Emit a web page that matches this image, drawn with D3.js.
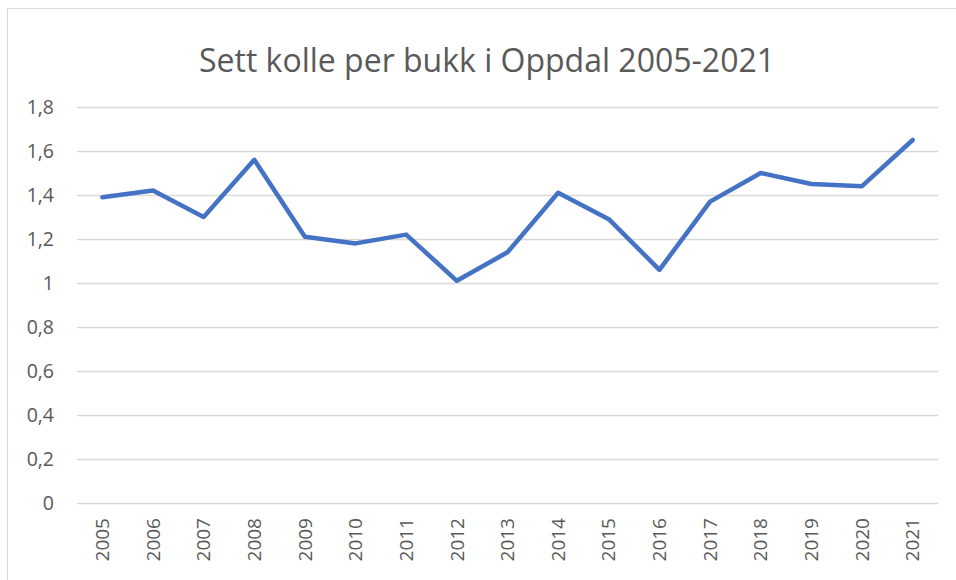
<!DOCTYPE html>
<html>
<head>
<meta charset="utf-8">
<script src="https://cdn.jsdelivr.net/npm/d3@7"></script>
<style>
  html, body { margin: 0; padding: 0; background: #fff; }
  svg { display: block; }
</style>
</head>
<body>
<svg id="chart" width="956" height="580"></svg>
<script>
// Data
const years = ["2005","2006","2007","2008","2009","2010","2011","2012","2013",
               "2014","2015","2016","2017","2018","2019","2020","2021"];
const values = [1.39, 1.42, 1.30, 1.56, 1.21, 1.18, 1.22, 1.01, 1.14,
                1.41, 1.29, 1.06, 1.37, 1.50, 1.45, 1.44, 1.65];
const yTicks = [0, 0.2, 0.4, 0.6, 0.8, 1, 1.2, 1.4, 1.6, 1.8];
const title = "Sett kolle per bukk i Oppdal 2005-2021";

const svg = d3.select("#chart");
const font = "'Open Sans', 'Liberation Sans', sans-serif";
const textColor = "#595959";

// chart frame
svg.append("rect")
  .attr("x", 7.5).attr("y", 8.5)
  .attr("width", 960).attr("height", 580)
  .attr("fill", "#fff")
  .attr("stroke", "#d9d9d9");

const margin = { left: 77, right: 18, top: 107, bottom: 77 };
const width = 956, height = 580;

const x = d3.scaleBand()
  .domain(years)
  .range([margin.left, width - margin.right]);

const y = d3.scaleLinear()
  .domain([0, 1.8])
  .range([height - margin.bottom, margin.top]);

const fmt = v => d3.format("")(+v.toFixed(1)).replace(".", ",");

// gridlines
svg.append("g")
  .selectAll("line")
  .data(yTicks).join("line")
  .attr("x1", margin.left).attr("x2", width - margin.right)
  .attr("y1", d => Math.round(y(d)) + 0.5).attr("y2", d => Math.round(y(d)) + 0.5)
  .attr("stroke", "#d9d9d9")
  .attr("stroke-width", 1.3);

// y labels
svg.append("g")
  .selectAll("text")
  .data(yTicks).join("text")
  .attr("x", 54)
  .attr("y", d => y(d))
  .attr("dy", "0.35em")
  .attr("text-anchor", "end")
  .attr("fill", textColor)
  .attr("font-family", font)
  .attr("font-size", "19.5px")
  .text(fmt);

// x labels (rotated)
svg.append("g")
  .selectAll("text")
  .data(years).join("text")
  .attr("transform", d => `translate(${x(d) + x.bandwidth() / 2},${height - margin.bottom + 15}) rotate(-90)`)
  .attr("dy", "0.35em")
  .attr("text-anchor", "end")
  .attr("fill", textColor)
  .attr("font-family", font)
  .attr("font-size", "19px")
  .text(d => d);

// line
const line = d3.line()
  .x((d, i) => x(years[i]) + x.bandwidth() / 2)
  .y(d => y(d));

svg.append("path")
  .datum(values)
  .attr("d", line)
  .attr("fill", "none")
  .attr("stroke", "#4472C4")
  .attr("stroke-width", 4.5)
  .attr("stroke-linejoin", "round")
  .attr("stroke-linecap", "round");

// title
svg.append("text")
  .attr("x", 487)
  .attr("y", 72)
  .attr("text-anchor", "middle")
  .attr("fill", textColor)
  .attr("font-family", font)
  .attr("font-size", "32px")
  .text(title);
</script>
</body>
</html>
